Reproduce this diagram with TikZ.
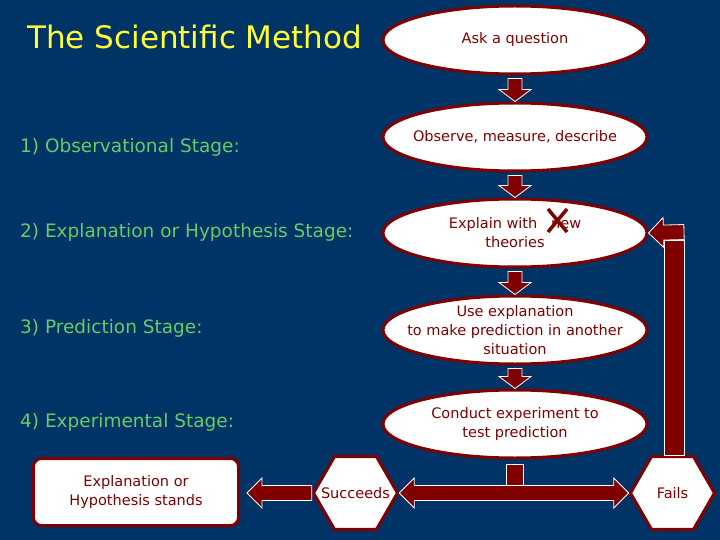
\documentclass[tikz,border=0pt]{standalone}
\usepackage{fontspec}
\setmainfont{DejaVu Sans}
\usetikzlibrary{shapes.geometric,calc}
\definecolor{navy}{RGB}{0,51,102}
\definecolor{maroon}{RGB}{128,0,0}
\definecolor{stagegreen}{RGB}{102,204,102}
\definecolor{titleyellow}{RGB}{255,255,51}
\tikzset{
    bubble/.style={ellipse, draw=maroon, line width=3pt, fill=white, text=maroon,
        inner xsep=-30pt, inner ysep=-10pt,
        minimum width=264pt, minimum height=68pt, align=center,
        font=\fontsize{14.5}{19}\selectfont},
    hexa/.style={regular polygon, regular polygon sides=6, draw=maroon, line width=3pt,
        fill=white, text=maroon, minimum size=84pt, inner sep=-15pt,
        font=\fontsize{14.5}{19}\selectfont},
    standbox/.style={rectangle, rounded corners=8pt, draw=maroon, line width=3pt,
        fill=white, text=maroon, minimum width=205pt, minimum height=67pt, align=center,
        font=\fontsize{14.5}{19}\selectfont},
    stage/.style={anchor=west, inner sep=0pt, text=stagegreen, font=\fontsize{18.5}{22}\selectfont},
    blockarr/.style={fill=maroon, draw=white, line width=0.8pt, line join=miter}
}
\newcommand\blockarrow[5]{
    \coordinate (ba-h) at ($(#2)!#5!(#1)$);
    \filldraw[blockarr] ($(#1)!#3!90:(#2)$) -- ($(ba-h)!#3!90:(#2)$) -- ($(ba-h)!#4!90:(#2)$)
        -- (#2) -- ($(ba-h)!#4!-90:(#2)$) -- ($(ba-h)!#3!-90:(#2)$) -- ($(#1)!#3!-90:(#2)$) -- cycle;
}
\newcommand\doublearrow[5]{
    \coordinate (da-a) at ($(#1)!#5!(#2)$);
    \coordinate (da-b) at ($(#2)!#5!(#1)$);
    \filldraw[blockarr] (#1) -- ($(da-a)!#4!90:(#2)$) -- ($(da-a)!#3!90:(#2)$) -- ($(da-b)!#3!90:(#2)$)
        -- ($(da-b)!#4!90:(#2)$) -- (#2) -- ($(da-b)!#4!-90:(#2)$) -- ($(da-b)!#3!-90:(#2)$)
        -- ($(da-a)!#3!-90:(#2)$) -- ($(da-a)!#4!-90:(#2)$) -- cycle;
}

\begin{document}
\begin{tikzpicture}[x=1pt,y=-1pt]
        \fill[navy] (0,0) rectangle (720,540);
        \useasboundingbox (0,0) rectangle (720,540);
        \node[anchor=west, inner sep=0pt, text=titleyellow, font=\fontsize{31}{36}\selectfont] (title) at (27,37) {The Scientific Method};
        \node[stage] (st1) at (20,147) {1) Observational Stage:};
        \node[stage] (st2) at (20,232) {2) Explanation or Hypothesis Stage:};
        \node[stage] (st3) at (20,328) {3) Prediction Stage:};
        \node[stage] (st4) at (20,422) {4) Experimental Stage:};
        % the chain of steps
        \node[bubble] (ask) at (515,40) {Ask a question};
        \node[bubble] (observe) at (515,137) {Observe, measure, describe};
        \node[bubble] (explain) at (515,233) {Explain with~~~new\\theories};
        \node[bubble] (predict) at (515,330) {Use explanation\\to make prediction in another\\situation};
        \node[bubble] (conduct) at (515,424) {Conduct experiment to\\test prediction};
        \draw[maroon, line width=3.5pt] (548,209) -- (567,232) (567,209) -- (548,232);
        \coordinate (a1) at ($(ask.south)+(0,3)$);
        \coordinate (a2) at ($(observe.south)+(0,3)$);
        \coordinate (a3) at ($(explain.south)+(0,3)$);
        \coordinate (a4) at ($(predict.south)+(0,3)$);
        \blockarrow{a1}{observe.north}{7pt}{16pt}{12pt}
        \blockarrow{a2}{explain.north}{7pt}{16pt}{12pt}
        \blockarrow{a3}{predict.north}{7pt}{16pt}{12pt}
        \blockarrow{a4}{conduct.north}{7pt}{16pt}{12pt}
        % outcomes
        \node[hexa] (succeeds) at (355.5,493) {Succeeds};
        \node[hexa] (fails) at (672.5,493) {Fails};
        \node[standbox] (stands) at (136,492) {Explanation or\\Hypothesis stands};
        \filldraw[blockarr] ($(conduct.south)+(-9,5)$) rectangle (523,487);
        \doublearrow{succeeds.east}{fails.west}{7.5pt}{15pt}{15pt}
        \coordinate (s1) at ($(stands.east)+(7,1)$);
        \blockarrow{succeeds.west}{s1}{7.5pt}{15pt}{15pt}
        % back to a new explanation
        \coordinate (looptop) at (675.5,240);
        \coordinate (loopturn) at (684,232);
        \filldraw[blockarr] ($(fails.north)+(-8.5,0)$) rectangle ($(looptop)+(8.5,0)$);
        \blockarrow{loopturn}{explain.east}{7.5pt}{15pt}{15pt}
\end{tikzpicture}
\end{document}
